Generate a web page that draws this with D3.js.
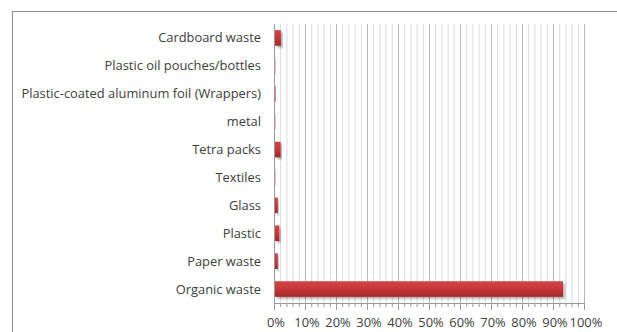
<!DOCTYPE html>
<html>
<head>
<meta charset="utf-8">
<script src="https://cdn.jsdelivr.net/npm/d3@7"></script>
<style>
  html, body { margin: 0; padding: 0; background: #fff; }
  svg { display: block; }
  text { font-family: "Open Sans", "Noto Sans", sans-serif; fill: #404040; }
</style>
</head>
<body>
<svg id="chart" width="617" height="332"></svg>
<script>
// Waste composition by category (share of total, %)
const categories = [
  "Cardboard waste",
  "Plastic oil pouches/bottles",
  "Plastic-coated aluminum foil (Wrappers)",
  "metal",
  "Tetra packs",
  "Textiles",
  "Glass",
  "Plastic",
  "Paper waste",
  "Organic waste"
];
const shares = [1.9, 0.1, 0.2, 0.1, 1.8, 0.1, 0.9, 1.4, 0.9, 92.9];
const tickValues = [0, 10, 20, 30, 40, 50, 60, 70, 80, 90, 100];
const minorTickValues = d3.range(0, 101, 2);

const svg = d3.select("#chart");
const margin = { left: 274, right: 33, top: 24, bottom: 29 };
const W = 617, H = 332;

// outer chart frame
svg.append("rect")
  .attr("x", 12.5).attr("y", 11.5)
  .attr("width", 640).attr("height", 360)
  .attr("fill", "none").attr("stroke", "#8c8c8c").attr("stroke-width", 1);

const x = d3.scaleLinear().domain([0, 100]).range([margin.left, W - margin.right]);
const y = d3.scaleBand().domain(categories).range([margin.top, H - margin.bottom]).paddingInner(0.44).paddingOuter(0.22);

const defs = svg.append("defs");
const grad = defs.append("linearGradient").attr("id", "barGrad")
  .attr("x1", 0).attr("y1", 0).attr("x2", 0).attr("y2", 1);
grad.append("stop").attr("offset", "0%").attr("stop-color", "#d24447");
grad.append("stop").attr("offset", "45%").attr("stop-color", "#c9373a");
grad.append("stop").attr("offset", "100%").attr("stop-color", "#a3282a");
const sh = defs.append("filter").attr("id", "shadow")
  .attr("x", "-10%").attr("y", "-30%").attr("width", "130%").attr("height", "180%");
sh.append("feGaussianBlur").attr("in", "SourceAlpha").attr("stdDeviation", 1.2).attr("result", "b");
sh.append("feOffset").attr("in", "b").attr("dx", 1.5).attr("dy", 2).attr("result", "o");
sh.append("feComponentTransfer").attr("in", "o").attr("result", "s")
  .append("feFuncA").attr("type", "linear").attr("slope", 0.3);
const m = sh.append("feMerge");
m.append("feMergeNode").attr("in", "s");
m.append("feMergeNode").attr("in", "SourceGraphic");

const plotTop = margin.top, plotBottom = H - margin.bottom;

// minor gridlines every 2%
svg.append("g").selectAll("line")
  .data(minorTickValues.filter(v => v % 10 !== 0))
  .join("line")
  .attr("x1", d => x(d) + 0.5).attr("x2", d => x(d) + 0.5)
  .attr("y1", plotTop).attr("y2", plotBottom)
  .attr("stroke", "#dcdcdc").attr("stroke-width", 1);

// major gridlines every 10%
svg.append("g").selectAll("line")
  .data(tickValues.filter(v => v > 0))
  .join("line")
  .attr("x1", d => x(d) + 0.5).attr("x2", d => x(d) + 0.5)
  .attr("y1", plotTop).attr("y2", plotBottom)
  .attr("stroke", "#b8b8b8").attr("stroke-width", 1);

// bars
svg.append("g").selectAll("rect")
  .data(categories.map((c, i) => ({ c, v: shares[i] })))
  .join("rect")
  .attr("x", x(0) + 1)
  .attr("y", d => y(d.c))
  .attr("width", d => x(d.v) - x(0))
  .attr("height", y.bandwidth())
  .attr("fill", "url(#barGrad)")
  .attr("filter", "url(#shadow)");

// vertical category axis line
svg.append("line")
  .attr("x1", x(0) + 0.5).attr("x2", x(0) + 0.5)
  .attr("y1", plotTop).attr("y2", plotBottom)
  .attr("stroke", "#9a9a9a");

// category labels
svg.append("g").selectAll("text")
  .data(categories)
  .join("text")
  .attr("x", 261)
  .attr("y", d => y(d) + y.bandwidth() / 2)
  .attr("dy", "0.35em")
  .attr("text-anchor", "end")
  .attr("font-size", 12.9)
  .text(d => d);

// value axis with major and minor ticks
const axisG = svg.append("g").attr("transform", `translate(0,${plotBottom})`);
axisG.append("line")
  .attr("x1", x(0)).attr("x2", x(100))
  .attr("y1", 0.5).attr("y2", 0.5).attr("stroke", "#9a9a9a");
axisG.selectAll("line.minor")
  .data(minorTickValues.filter(v => v % 10 !== 0))
  .join("line").attr("class", "minor")
  .attr("x1", d => x(d) + 0.5).attr("x2", d => x(d) + 0.5)
  .attr("y1", 0).attr("y2", 4).attr("stroke", "#9a9a9a");
axisG.selectAll("line.major")
  .data(tickValues)
  .join("line").attr("class", "major")
  .attr("x1", d => x(d) + 0.5).attr("x2", d => x(d) + 0.5)
  .attr("y1", 0).attr("y2", 7).attr("stroke", "#9a9a9a");
axisG.selectAll("text")
  .data(tickValues)
  .join("text")
  .attr("x", d => x(d) + 2)
  .attr("y", 19)
  .attr("dy", "0.35em")
  .attr("text-anchor", "middle")
  .attr("font-size", 12.9)
  .text(d => d + "%");
</script>
</body>
</html>
